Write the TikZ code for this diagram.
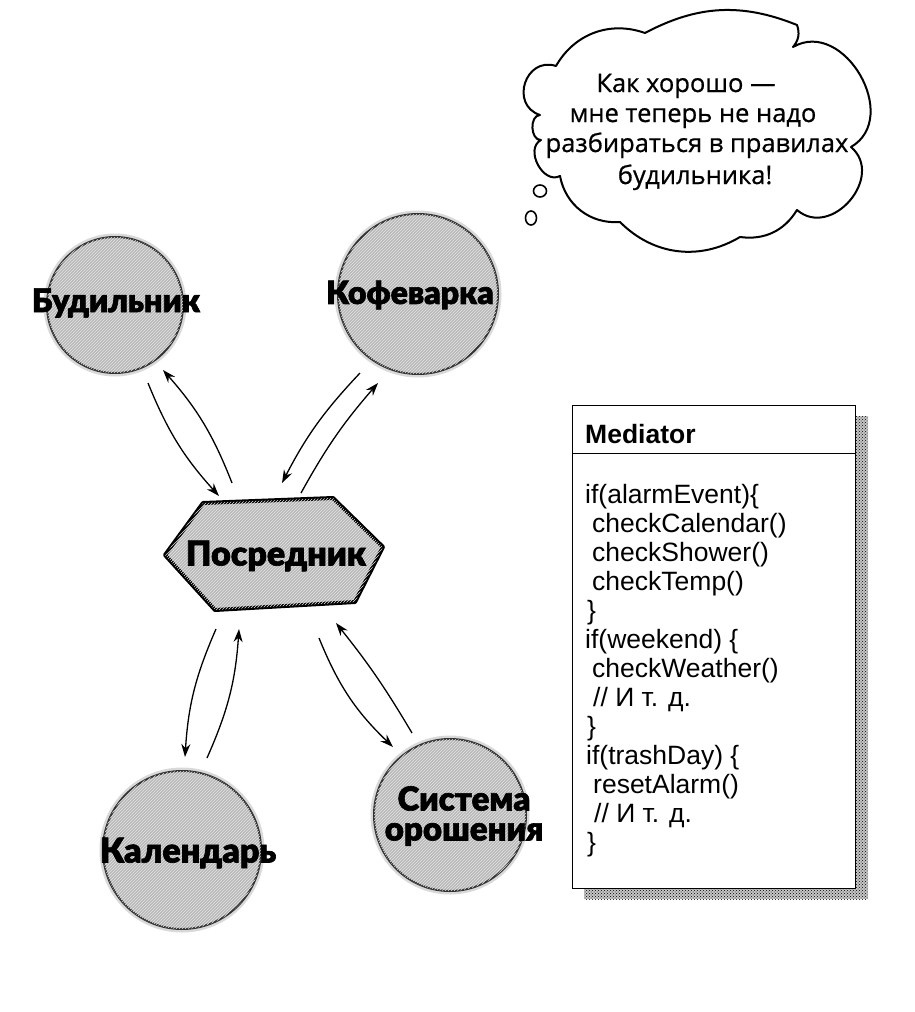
\documentclass[tikz,border=0pt]{standalone}
\usepackage{fontspec}
\setmainfont{Liberation Sans}
\newfontfamily\heavy{Lato Black}[FakeBold=2]
\newfontfamily\cloudfont{Open Sans}[FakeBold=0.7]
\usetikzlibrary{shapes.symbols,shapes.geometric,arrows.meta,patterns,calc}
\begin{document}
\begin{tikzpicture}[x=1pt,y=-1pt,
  circ/.style={circle, inner sep=0pt, fill=gray!55, draw=gray!40!black, line width=2pt,
     preaction={draw=gray!30, line width=7pt},
     postaction={pattern=north east lines, pattern color=gray!22}},
  hexa/.style={fill=gray!55, draw=black, line width=4pt, line join=round,
     postaction={pattern=north east lines, pattern color=gray!22}},
  lbl/.style={font=\heavy\fontsize{32}{33}\selectfont, inner sep=0pt, align=center},
  arr/.style={line width=1.3pt, -{Stealth[length=13pt,width=9pt]}},
  code/.style={anchor=base west, inner sep=0pt, font=\fontsize{26.5}{29}\selectfont},
  ctext/.style={anchor=base, inner sep=0pt, font=\cloudfont\fontsize{25.5}{30}\selectfont},
  cloudline/.style={line width=2pt, line join=round, line cap=round}]
\useasboundingbox[fill=white] (0,0) rectangle (914,1012);

% ---- cloud ----
\draw[cloudline]
  (556,66) to[bend left=40] (645,33)
  to[bend left=25] (797,25)
  to[bend left=30] (793,47)
  to[bend left=90, looseness=1.3] (851,147)
  to[bend left=90, looseness=1.4] (797,210)
  to[bend left=33] (740,237)
  to[bend left=38] (620,222)
  to[bend left=42] (560,176)
  to[bend left=90, looseness=1.2] (541,140)
  to[bend left=90, looseness=1.1] (540,115)
  to[bend left=90, looseness=1.6] (556,66);
\draw[cloudline, line width=1.6pt] (540,191) ellipse[x radius=6.5pt, y radius=6pt];
\draw[cloudline, line width=1.6pt] (531,218) ellipse[x radius=5.5pt, y radius=7pt];

\node[ctext] (t1) at (686,92)  {Как хорошо —};
\node[ctext] (t2) at (693,122) {мне теперь не надо};
\node[ctext] (t3) at (697,152) {разбираться в правилах};
\node[ctext] (t4) at (695,184) {будильника!};

% ---- circles ----
\node[circ, minimum size=136pt] (bud) at (115,305) {};
\node[circ, minimum size=160pt] (kof) at (418,294) {};
\node[circ, minimum size=158pt] (cal) at (182,850) {};
\node[circ, minimum size=152pt] (sys) at (450,815) {};
\node[lbl, font=\heavy\fontsize{32.5}{33}\selectfont] (budl) at (116,303) {Будильник};
\node[lbl] (kofl) at (410,295) {Кофеварка};
\node[lbl, font=\heavy\fontsize{34}{35}\selectfont] (call) at (188,853) {Календарь};
\node[lbl, font=\heavy\fontsize{33}{34}\selectfont] (sysl) at (464,816) {Система\\[-4pt]орошения};

% ---- mediator hexagon ----
\node[minimum width=218pt, minimum height=110pt, inner sep=0pt] (med) at (274,554) {};
\draw[hexa] ($(med)+(-71,-51)$) -- ($(med)+(59,-56)$) -- ($(med)+(109,-7)$)
  -- ($(med)+(81,48)$) -- ($(med)+(-59,56)$) -- ($(med)+(-109,1)$) -- cycle;
\node[lbl, font=\heavy\fontsize{34}{35}\selectfont] (medl) at (276,556) {Посредник};

% ---- arrows ----
\draw[arr] ($(bud)+(33,78)$) to[bend right=10] ($(med)+(-55,-58)$);
\draw[arr] ($(med)+(-42,-71)$) to[bend right=10] ($(bud)+(48,65)$);
\draw[arr] ($(kof)+(-58,79)$) to[bend right=8] ($(med)+(8,-71)$);
\draw[arr] ($(med)+(27,-61)$) to[bend left=6] ($(kof)+(-40,89)$);
\draw[arr] ($(med)+(-58,75)$) to[bend right=10] ($(cal)+(3,-93)$);
\draw[arr] ($(cal)+(25,-92)$) to[bend right=10] ($(med)+(-35,75)$);
\draw[arr] ($(med)+(45,84)$) to[bend right=12] ($(sys)+(-57,-68)$);
\draw[arr] ($(sys)+(-38,-82)$) to[bend right=4] ($(med)+(62,69)$);

% ---- Mediator class box ----
\fill[gray!45] (584,416) rectangle (868,899);
\fill[pattern=crosshatch dots, pattern color=black] (584,416) rectangle (868,899);
\node[draw, line width=1.3pt, fill=white, anchor=north west, minimum width=283pt,
      minimum height=483pt, inner sep=0pt] (box) at (572,405) {};
\draw[line width=1pt] (box.west |- 0,453) -- (box.east |- 0,453);
\node[code, font=\bfseries\fontsize{26.5}{29}\selectfont] (mt) at (585,443) {Mediator};
\foreach \i/\x/\t in {0/585/{if(alarmEvent)\{},1/592/{checkCalendar()},2/592/{checkShower()},
  3/592/{checkTemp()},4/587/{\}},5/585/{if(weekend) \{},6/592/{checkWeather()},
  7/593/{// И т. д.},8/587/{\}},9/586/{if(trashDay) \{},10/593/{resetAlarm()},
  11/594/{// И т. д.},12/587/{\}}}
  \node[code] (c\i) at (\x,503+29*\i) {\t};
\end{tikzpicture}
\end{document}
